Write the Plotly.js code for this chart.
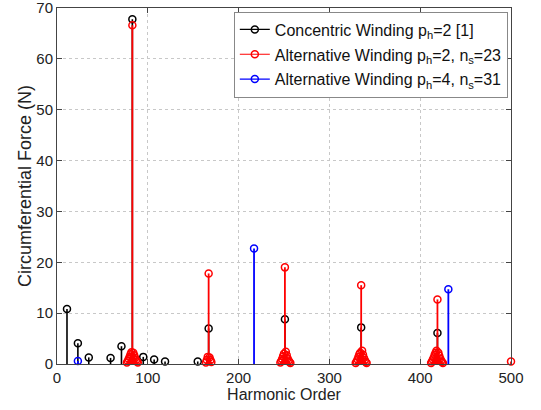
<!DOCTYPE html>
<html>
<head>
<meta charset="utf-8">
<script src="https://cdn.plot.ly/plotly-3.0.1.min.js"></script>
<style>html,body{margin:0;padding:0;background:#fff;}#chart{width:541px;height:410px;}</style>
</head>
<body>
<div id="chart"></div>
<script>
// Concentric winding p_h=2 [1]
const concX = [11, 23, 35, 59, 71, 83, 95, 107, 119, 155, 167, 251, 335, 419];
const concY = [10.8, 4.1, 1.3, 1.2, 3.5, 67.8, 1.4, 0.9, 0.5, 0.5, 7.0, 8.8, 7.2, 6.1];

// Alternative winding p_h=2, n_s=23
const altAX = [77, 78, 79, 80, 81, 82, 83, 84, 85, 86, 87, 88, 89,
               164, 165, 166, 167, 168, 169, 170,
               246, 247, 248, 249, 250, 251, 252, 253, 254, 255, 256, 257,
               329, 330, 331, 332, 333, 334, 335, 336, 337, 338, 339, 340, 341,
               412, 413, 414, 415, 416, 417, 418, 419, 420, 421, 422, 423, 424, 425,
               500];
const altAY = [0.3, 0.6, 1.0, 1.4, 1.9, 2.3, 66.6, 2.2, 1.7, 1.2, 0.8, 0.5, 0.3,
               0.3, 0.8, 1.4, 17.8, 1.3, 0.8, 0.4,
               0.3, 0.6, 1.0, 1.5, 2.0, 19.0, 2.4, 1.7, 1.1, 0.7, 0.4, 0.2,
               0.2, 0.5, 0.9, 1.4, 1.9, 2.2, 15.5, 2.6, 1.8, 1.2, 0.8, 0.4, 0.2,
               0.2, 0.5, 0.9, 1.3, 1.8, 2.2, 2.6, 12.7, 2.2, 1.6, 1.1, 0.7, 0.4, 0.2,
               0.5];

// Alternative winding p_h=4, n_s=31
const altBX = [23, 217, 431];
const altBY = [0.6, 22.7, 14.7];

const seriesNames = [
  'Concentric Winding p<sub>h</sub>=2 [1]',
  'Alternative Winding p<sub>h</sub>=2, n<sub>s</sub>=23',
  'Alternative Winding p<sub>h</sub>=4, n<sub>s</sub>=31'
];
const colors = ['#000000', '#ff0000', '#0000ff'];
const xTicks = [0, 100, 200, 300, 400, 500];
const yTicks = [0, 10, 20, 30, 40, 50, 60, 70];

function stemTraces(xs, ys, color, name, lw, grp) {
  const lx = [], ly = [];
  xs.forEach((x, i) => { lx.push(x, x, null); ly.push(0, ys[i], null); });
  const mk = {symbol: 'circle-open', size: 7, color: color, line: {width: 1.5, color: color}};
  return [
    {x: lx, y: ly, mode: 'lines', line: {color: color, width: lw}, showlegend: false, hoverinfo: 'skip', legendgroup: grp},
    {x: xs, y: ys, mode: 'markers', marker: mk, showlegend: false, cliponaxis: false, legendgroup: grp},
    {x: [null], y: [null], mode: 'lines+markers', name: name, legendgroup: grp, line: {color: color, width: 1.2}, marker: mk}
  ];
}

const data = [].concat(
  stemTraces(concX, concY, colors[0], seriesNames[0], 1.6, 'g1'),
  stemTraces(altAX, altAY, colors[1], seriesNames[1], 1.8, 'g2'),
  stemTraces(altBX, altBY, colors[2], seriesNames[2], 1.8, 'g3')
);

const fam = 'Liberation Sans, Arial, sans-serif';
const axisCommon = {
  showline: true, linecolor: '#444', linewidth: 1, mirror: 'ticks',
  ticks: 'inside', ticklen: 5, tickcolor: '#444',
  showgrid: true, gridcolor: '#c8c8c8', griddash: 'dot', gridwidth: 1,
  zeroline: false, ticklabeloverflow: 'allow',
  tickfont: {family: fam, size: 15, color: '#222'}
};

const layout = {
  width: 541, height: 410,
  margin: {l: 57, r: 30, t: 8, b: 46},
  paper_bgcolor: '#fff', plot_bgcolor: '#fff',
  xaxis: Object.assign({}, axisCommon, {
    range: [0, 500], tickvals: xTicks, ticktext: xTicks.map(String),
    title: {text: 'Harmonic Order', standoff: 2, font: {family: fam, size: 16, color: '#222'}}
  }),
  yaxis: Object.assign({}, axisCommon, {
    range: [0, 70], tickvals: yTicks, ticktext: yTicks.map(String),
    title: {text: 'Circumferential Force (N)', standoff: 0, font: {family: fam, size: 18, color: '#222'}}
  }),
  legend: {
    x: 0.993, xanchor: 'right', y: 0.99, yanchor: 'top',
    bgcolor: '#fff', bordercolor: '#888', borderwidth: 1,
    font: {family: fam, size: 16, color: '#111'},
    itemwidth: 30, tracegroupgap: 1
  },
  showlegend: true
};

Plotly.newPlot('chart', data, layout, {staticPlot: true, displayModeBar: false});
</script>
</body>
</html>
